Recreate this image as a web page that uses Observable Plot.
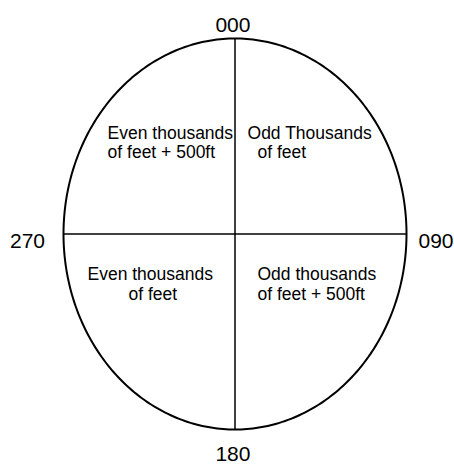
<!DOCTYPE html>
<html>
<head>
<meta charset="utf-8">
<script src="https://cdn.jsdelivr.net/npm/d3@7"></script>
<script src="https://cdn.jsdelivr.net/npm/@observablehq/plot@0.6"></script>
<style>
  html, body { margin: 0; padding: 0; background: #fff; }
  #chart svg { display: block; }
</style>
</head>
<body>
<div id="chart"></div>
<script>
// Compass headings around the ellipse
const headingLabels = ["000", "090", "180", "270"];
const headingX = [-0.012, 1.172, -0.012, -1.210];
const headingY = [1.070, -0.035, -1.129, -0.035];

// Quadrant texts, one entry per text line
const quadrantLines = [
  "Even thousands", "of feet + 500ft",
  "Odd Thousands", "of feet",
  "Even thousands", "of feet",
  "Odd thousands", "of feet + 500ft"
];
const quadrantX = [-0.743, -0.743, 0.073, 0.131, -0.860, -0.621, 0.131, 0.131];
const quadrantY = [0.513, 0.416, 0.513, 0.416, -0.208, -0.311, -0.208, -0.311];

// Ellipse outline (unit shape, parametric)
const outline = d3.range(0, 360, 1).map(a => ({
  x: Math.sin(a * Math.PI / 180),
  y: Math.cos(a * Math.PI / 180)
}));

const headings = headingLabels.map((t, i) => ({t, x: headingX[i], y: headingY[i]}));
const quads = quadrantLines.map((t, i) => ({t, x: quadrantX[i], y: quadrantY[i]}));

const font = "'Liberation Sans', Arial, Helvetica, sans-serif";

const chart = Plot.plot({
  width: 454,
  height: 464,
  margin: 0,
  style: {fontFamily: font, background: "#fff"},
  x: {domain: [-1, 1], range: [63, 406], axis: null},
  y: {domain: [-1, 1], range: [429, 38], axis: null},
  marks: [
    Plot.line(outline, {x: "x", y: "y", curve: "linear-closed", stroke: "#000", strokeWidth: 2}),
    Plot.ruleX([0], {y1: -1, y2: 1, stroke: "#000", strokeWidth: 1.5}),
    Plot.ruleY([0], {x1: -1, x2: 1, stroke: "#000", strokeWidth: 1.5}),
    Plot.text(headings, {x: "x", y: "y", text: "t", fontSize: 21, fill: "#000"}),
    Plot.text(quads, {x: "x", y: "y", text: "t", textAnchor: "start", fontSize: 17.5, fill: "#000"})
  ]
});
document.getElementById("chart").appendChild(chart);
</script>
</body>
</html>
